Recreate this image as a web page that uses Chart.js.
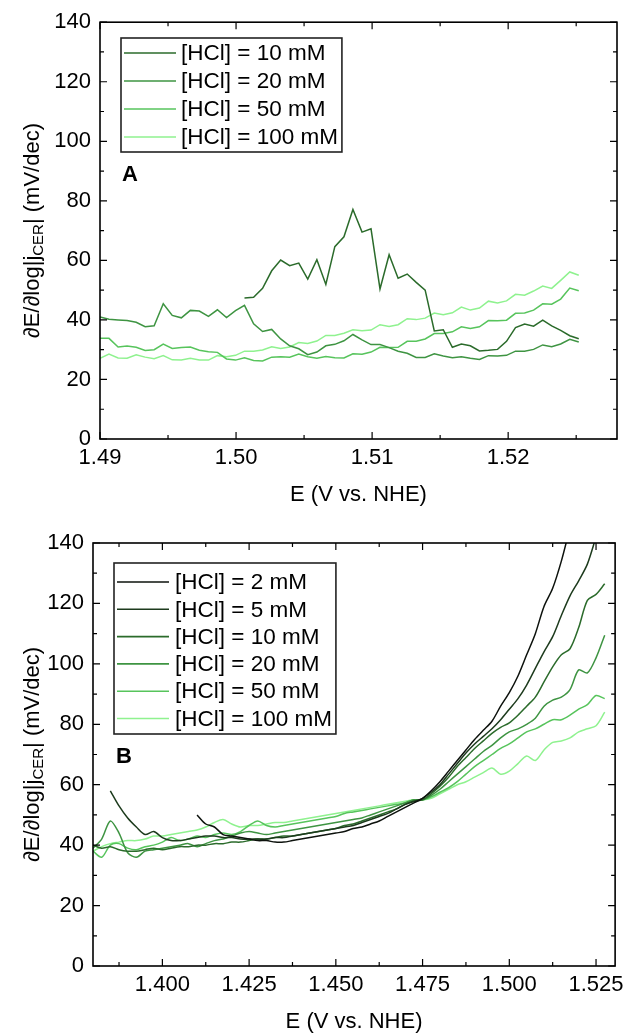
<!DOCTYPE html>
<html><head><meta charset="utf-8">
<script src="https://cdn.jsdelivr.net/npm/chart.js@4.4.1/dist/chart.umd.min.js"></script>
<style>
html,body{margin:0;padding:0;background:#fff;}
#wrap{position:relative;width:630px;height:1035px;overflow:hidden;}
canvas{position:absolute;left:0;}
</style></head><body>
<div id="wrap">
<canvas id="cA" width="630" height="520" style="top:0px"></canvas>
<canvas id="cB" width="630" height="515" style="top:520px"></canvas>
</div>
<script>
// ---------------- Panel A data ----------------
const A_labels = ['[HCl] = 10 mM', '[HCl] = 20 mM', '[HCl] = 50 mM', '[HCl] = 100 mM'];
const A_x = [1.49000,1.49066,1.49133,1.49199,1.49266,1.49332,1.49398,1.49465,1.49531,1.49598,
  1.49664,1.49730,1.49797,1.49863,1.49930,1.49996,1.50062,1.50129,1.50195,1.50262,
  1.50328,1.50394,1.50461,1.50527,1.50594,1.50660,1.50726,1.50793,1.50859,1.50926,
  1.50992,1.51058,1.51125,1.51191,1.51258,1.51324,1.51390,1.51457,1.51523,1.51590,
  1.51656,1.51722,1.51789,1.51855,1.51922,1.51988,1.52054,1.52121,1.52187,1.52254,
  1.52320,1.52386,1.52453,1.52519];
const A_10mM = [null,null,null,null,null,null,null,null,null,null,null,null,null,null,null,null,
  47.4,47.6,50.6,56.5,60.1,58.2,59.1,53.7,60.2,51.9,64.6,67.9,77.1,69.5,70.6,50.4,61.9,54.0,55.4,52.6,
  50.0,36.3,36.7,30.8,31.9,31.3,29.6,29.8,30.1,32.8,37.4,38.6,37.9,39.9,38.0,36.5,34.7,33.7];
const A_20mM = [41.0,40.2,40.0,39.8,39.2,37.7,38.0,45.4,41.5,40.7,
  43.2,43.0,41.2,43.4,40.8,43.1,44.9,38.7,36.1,36.8,
  33.6,31.3,30.3,28.3,29.2,31.3,31.8,33.0,35.1,33.3,
  31.7,31.7,30.7,29.5,28.8,27.4,27.4,28.6,27.9,27.3,
  27.6,27.1,26.7,28.0,27.9,28.1,29.5,29.5,30.1,31.6,
  31.0,31.9,33.5,32.6];
const A_50mM = [33.8,33.8,30.9,31.2,30.8,29.7,30.0,31.9,30.4,30.7,
  30.9,29.8,29.3,29.1,26.9,26.5,27.3,26.4,26.2,27.5,
  27.6,27.5,28.5,27.6,27.1,27.7,27.3,27.2,28.6,28.5,
  29.2,30.8,30.7,30.8,32.8,32.8,33.6,35.4,35.4,36.0,
  37.7,37.1,37.7,39.8,39.7,39.9,42.2,42.3,43.3,45.4,
  45.3,47.0,50.7,49.8];
const A_100mM = [27.1,28.5,27.2,27.1,28.3,27.5,27.0,28.0,26.6,26.5,
  27.1,26.5,26.5,28.0,27.6,28.1,29.5,29.5,29.9,31.0,
  30.4,30.9,32.4,32.1,32.9,34.8,34.8,35.5,36.7,36.4,
  36.6,38.4,37.8,38.4,40.4,40.1,40.6,42.3,41.7,42.4,
  44.3,43.3,44.0,46.3,45.7,46.4,48.6,48.3,49.7,51.4,
  50.6,53.3,56.1,55.0];
const A_xTicks = [1.49, 1.50, 1.51, 1.52];
const A_xTickLabels = ['1.49', '1.50', '1.51', '1.52'];
const A_xMinor = [1.495, 1.505, 1.515, 1.525];

// ---------------- Panel B data ----------------
const B_labels = ['[HCl] = 2 mM', '[HCl] = 5 mM', '[HCl] = 10 mM', '[HCl] = 20 mM', '[HCl] = 50 mM', '[HCl] = 100 mM'];
const B_x = [1.3800,1.3825,1.3850,1.3875,1.3900,1.3925,1.3950,1.3975,1.4000,1.4025,
  1.4050,1.4075,1.4100,1.4125,1.4150,1.4175,1.4200,1.4225,1.4250,1.4275,
  1.4300,1.4325,1.4350,1.4375,1.4400,1.4425,1.4450,1.4475,1.4500,1.4525,
  1.4550,1.4575,1.4600,1.4625,1.4650,1.4675,1.4700,1.4725,1.4750,1.4775,
  1.4800,1.4825,1.4850,1.4875,1.4900,1.4925,1.4950,1.4975,1.5000,1.5025,
  1.5050,1.5075,1.5100,1.5125,1.5150,1.5175,1.5200,1.5225,1.5250,1.5275];
const B_2mM = [null,null,null,null,null,null,null,null,null,null,null,null,
  50,47,46,43.5,43,42.5,42,41.5,41.5,41,41,41.5,42,42.5,43,43.5,44,44.5,45.5,46,47,48,49.5,51,52.5,54,
  55.5,58,61,64.5,68,71.5,75,78,81,86,90.5,96,103,110,119,125,134,145,155,
  null,null,null];
const B_5mM = [null,null,
  58,53,49,46,43.5,44.5,42.5,41.5,41.5,42,42.5,43,43,42.5,42.5,42,42,42,42,42.5,42.5,43,43.5,44,44.5,45,45.5,46,46.5,47.5,48.5,49.5,50.5,52,53.5,54.5,
  55.5,57.5,60,63.5,67,70.5,73.5,76,78.5,81.5,85,88.5,93,98.5,104,109,116,122.5,127.5,133,142,
  null];
const B_10mM = [40,39,39.5,38.5,38,38,38.5,39,38.5,39,
  39.5,39.5,40,40,40.5,40.5,41,41,41.5,42,
  42,42.5,43,43,43.5,44,44.5,45,45.5,46.5,
  47,48,49,50,51,52,53.5,54.5,
  55,57,59.5,62.5,66,69,72,74.5,77,79,80.5,83,86,89,94,99,103,105,112,121,123,126.5];
const B_20mM = [39,42,48,44,37.5,36,38,38.5,39,39.5,
  40,40.5,39.5,40.5,41.5,42,43,44,44.5,44,
  43.5,44,44.5,45,45.5,46,46.5,47,47.5,48,
  48.5,49,50,51,52,53,54,55,
  55,56.5,58.5,61,63.5,66,68.5,71,73,75.5,77.5,78.5,80,82,86,88,89,91.5,98,97,102,109.5];
const B_50mM = [38,36,40,40.5,39,38.5,39.5,40,41,42.5,
  41.5,42,43,42.5,43.5,44,43.5,44.5,46.5,48,
  46.5,46,46.5,47,47.5,48,48.5,49,49.5,50.5,
  51,51.5,52,52.5,53,53.5,54,55,
  55,56,57.5,59,61,63.5,66,68,70,72,73.5,75.5,77.5,78.5,80,81.5,81.5,83,85,86.5,89.5,88.5];
const B_100mM = [38,39.5,40.5,41,41.5,41.5,42,43,43,43.5,
  44,44.5,45,46,47.5,48.5,47,46,46.5,46.5,
  47,47.5,47.5,48,48.5,49,49.5,50,50.5,51,
  51.5,52,52.5,53,53.5,54,54.5,55,
  55,55.5,57,58.5,60,61,62.5,64,65.5,63.5,64.5,67,69.5,68,71.5,74,74.5,75.5,77.5,78.5,79.5,84];
const B_xTicks = [1.400, 1.425, 1.450, 1.475, 1.500, 1.525];
const B_xTickLabels = ['1.400', '1.425', '1.450', '1.475', '1.500', '1.525'];
const B_xMinor = [1.3875, 1.4125, 1.4375, 1.4625, 1.4875, 1.5125];

// shared y axis ticks
const yTicks = [0, 20, 40, 60, 80, 100, 120, 140];
const yTickLabels = ['0', '20', '40', '60', '80', '100', '120', '140'];
const yMinor = [10, 30, 50, 70, 90, 110, 130];

// colours
const C2 = '#0d120d', C5 = '#1d3b1d', C10 = '#2b6b2b', C20 = '#3e9442', C50 = '#57c45c', C100 = '#8ff28f';

const FONT = '"Liberation Sans", Arial, Helvetica, sans-serif';
const FS = 22;     // tick / title font size
const FL = 22.5;   // legend font size

function frame(opts) {
  return {
    id: 'frame' + opts.letter,
    afterDraw(chart) {
      const ctx = chart.ctx, a = chart.chartArea, xs = chart.scales.x, ys = chart.scales.y;
      ctx.save();
      ctx.strokeStyle = '#000';
      ctx.lineWidth = 1.2;
      const majL = 7, minL = 4;
      const xt = (v, L) => { const p = xs.getPixelForValue(v);
        ctx.beginPath(); ctx.moveTo(p, a.bottom); ctx.lineTo(p, a.bottom - L);
        ctx.moveTo(p, a.top); ctx.lineTo(p, a.top + L); ctx.stroke(); };
      const yt = (v, L) => { const p = ys.getPixelForValue(v);
        ctx.beginPath(); ctx.moveTo(a.left, p); ctx.lineTo(a.left + L, p);
        ctx.moveTo(a.right, p); ctx.lineTo(a.right - L, p); ctx.stroke(); };
      opts.xTicks.forEach(v => xt(v, majL));
      opts.xMinor.forEach(v => xt(v, minL));
      yTicks.forEach(v => yt(v, majL));
      yMinor.forEach(v => yt(v, minL));
      ctx.lineWidth = 1.6;
      ctx.strokeRect(a.left, a.top, a.right - a.left, a.bottom - a.top);

      // legend
      const ds = chart.data.datasets;
      ctx.font = FL + 'px ' + FONT;
      let maxW = 0;
      ds.forEach(d => { maxW = Math.max(maxW, ctx.measureText(d.label).width); });
      const L = opts.legend;
      ctx.lineWidth = 1.6;
      ctx.strokeStyle = '#222';
      ctx.strokeRect(L.left, L.top, (L.textX - L.left) + maxW + 4, L.bottom - L.top);
      ds.forEach((d, i) => {
        const yy = L.row0 + i * L.dy;
        ctx.strokeStyle = d.borderColor; ctx.lineWidth = 1.6;
        ctx.beginPath(); ctx.moveTo(L.lineX0, yy); ctx.lineTo(L.lineX1, yy); ctx.stroke();
        ctx.fillStyle = '#000'; ctx.textBaseline = 'middle'; ctx.textAlign = 'left';
        ctx.fillText(d.label, L.textX, yy + 1);
      });

      // panel letter
      ctx.font = 'bold ' + FS + 'px ' + FONT;
      ctx.fillStyle = '#000'; ctx.textBaseline = 'middle'; ctx.textAlign = 'left';
      ctx.fillText(opts.letter, opts.letterX, opts.letterY);

      // x title
      ctx.font = FS + 'px ' + FONT;
      ctx.textAlign = 'center';
      ctx.fillText('E (V vs. NHE)', (a.left + a.right) / 2, opts.xTitleY);

      // y title with subscript
      ctx.save();
      ctx.translate(opts.yTitleX, (a.top + a.bottom) / 2);
      ctx.rotate(-Math.PI / 2);
      const parts = [['\u2202E/\u2202log|j', FS, 0], ['CER', Math.round(FS * 0.68), 6], ['| (mV/dec)', FS, 0]];
      let tot = 0;
      parts.forEach(p => { ctx.font = p[1] + 'px ' + FONT; p.push(ctx.measureText(p[0]).width); tot += p[3]; });
      let cx = -tot / 2;
      ctx.textAlign = 'left'; ctx.textBaseline = 'middle';
      parts.forEach(p => { ctx.font = p[1] + 'px ' + FONT; ctx.fillText(p[0], cx, p[2]); cx += p[3]; });
      ctx.restore();
      ctx.restore();
    }
  };
}

function mk(xs, ys, label, color) {
  return { label, borderColor: color, backgroundColor: color, borderWidth: 1.5,
    data: xs.map((x, i) => ({ x, y: ys[i] })), pointRadius: 0, fill: false };
}

function chartOpts(o) {
  return {
    responsive: false, animation: false, devicePixelRatio: 1,
    layout: { padding: { left: 0, top: o.padTop, right: o.padRight, bottom: 0 } },
    plugins: { legend: { display: false }, tooltip: { enabled: false } },
    elements: { line: { tension: o.tension } },
    scales: {
      x: { type: 'linear', min: o.xmin, max: o.xmax,
        afterBuildTicks: s => { s.ticks = o.xTicks.map(v => ({ value: v })); },
        afterFit: s => { s.height = o.xHeight; },
        grid: { display: false, drawTicks: false }, border: { display: false },
        ticks: { padding: 6, color: '#000', font: { family: FONT, size: FS }, maxRotation: 0,
          callback: (v, i) => o.xTickLabels[i] } },
      y: { type: 'linear', min: 0, max: 140,
        afterBuildTicks: s => { s.ticks = yTicks.map(v => ({ value: v })); },
        afterFit: s => { s.width = o.yWidth; },
        grid: { display: false, drawTicks: false }, border: { display: false },
        ticks: { padding: 9, color: '#000', font: { family: FONT, size: FS },
          callback: (v, i) => yTickLabels[i] } }
    }
  };
}

new Chart(document.getElementById('cA'), {
  type: 'line',
  data: { datasets: [
    mk(A_x, A_10mM, A_labels[0], C10),
    mk(A_x, A_20mM, A_labels[1], C20),
    mk(A_x, A_50mM, A_labels[2], C50),
    mk(A_x, A_100mM, A_labels[3], C100)
  ] },
  options: chartOpts({ padTop: 21, padRight: 13, xHeight: 81, yWidth: 100, tension: 0,
    xmin: 1.49, xmax: 1.528, xTicks: A_xTicks, xTickLabels: A_xTickLabels }),
  plugins: [frame({ letter: 'A', letterX: 122, letterY: 175, xTitleY: 495, yTitleX: 33,
    xTicks: A_xTicks, xMinor: A_xMinor,
    legend: { left: 121, top: 38, bottom: 152, row0: 53, dy: 28, lineX0: 124, lineX1: 176, textX: 181 } })]
});

new Chart(document.getElementById('cB'), {
  type: 'line',
  data: { datasets: [
    mk(B_x, B_2mM, B_labels[0], C2),
    mk(B_x, B_5mM, B_labels[1], C5),
    mk(B_x, B_10mM, B_labels[2], C10),
    mk(B_x, B_20mM, B_labels[3], C20),
    mk(B_x, B_50mM, B_labels[4], C50),
    mk(B_x, B_100mM, B_labels[5], C100)
  ] },
  options: chartOpts({ padTop: 23, padRight: 12, xHeight: 69, yWidth: 93, tension: 0.3,
    xmin: 1.38, xmax: 1.5305, xTicks: B_xTicks, xTickLabels: B_xTickLabels }),
  plugins: [frame({ letter: 'B', letterX: 116, letterY: 237, xTitleY: 502, yTitleX: 33,
    xTicks: B_xTicks, xMinor: B_xMinor,
    legend: { left: 114, top: 43, bottom: 214, row0: 62, dy: 27.3, lineX0: 117, lineX1: 169, textX: 175 } })]
});
</script>
</body></html>
